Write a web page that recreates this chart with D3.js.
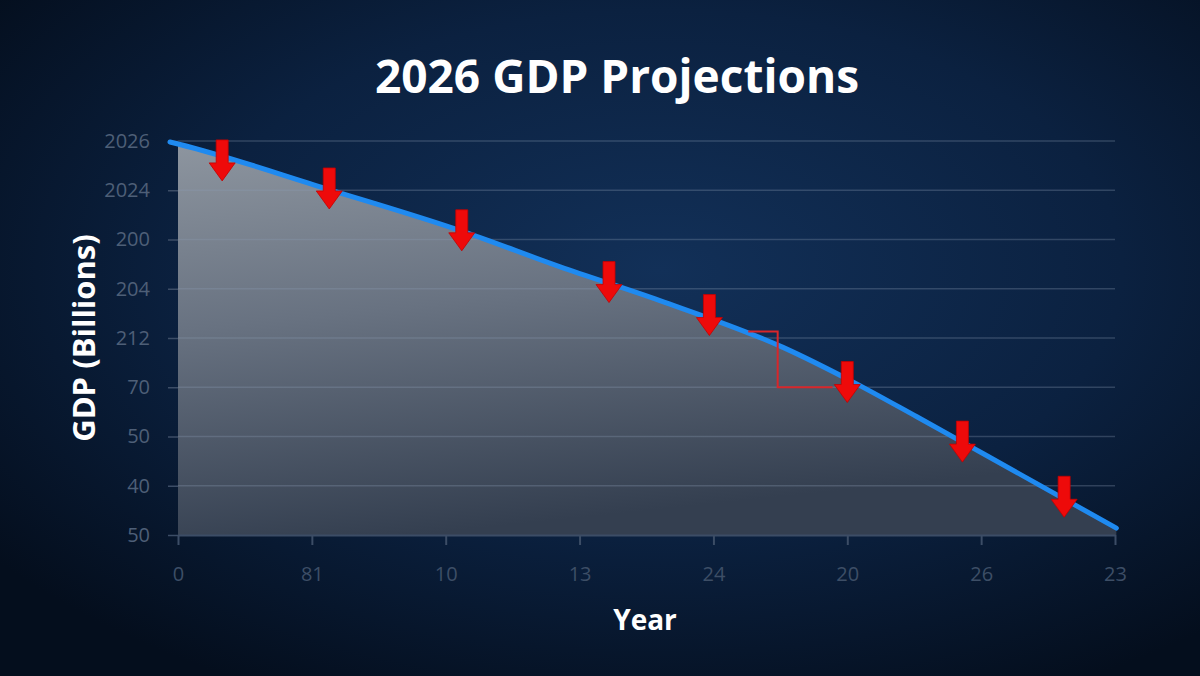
<!DOCTYPE html>
<meta charset="utf-8">
<script src="https://d3js.org/d3.v7.min.js"></script>
<style>
  html, body { margin: 0; padding: 0; background: #07152a; }
</style>
<div id="chart"></div>
<script>

    // tick labels, as printed on the chart
    var xTickLabels = ["0", "81", "10", "13", "24", "20", "26", "23"]
    var yTickLabels = ["50", "40", "50", "70", "212", "204", "200", "2024", "2026"]

    // GDP line (x in tick steps, y in gridline steps)
    var lineX = [-0.06, 0, 1.11, 2.11, 2.85, 3.6, 4.52, 5.02, 5.52, 6.01, 7.01]
    var lineY = [7.98, 7.94, 7.03, 6.18, 5.45, 4.76, 3.81, 3.14, 2.4, 1.66, 0.14]

    // red down arrows: position of the arrow tip
    var arrowX = [0.33, 1.13, 2.12, 3.22, 3.97, 5.0, 5.86, 6.62]
    var arrowY = [7.19, 6.62, 5.77, 4.72, 4.05, 2.69, 1.48, 0.36]

    // small red step marker
    var stepX = [4.26, 4.48, 4.48, 4.89]
    var stepY = [4.13, 4.13, 3.0, 3.0]

    var width = 1200, height = 676
    var margin = {top: 141, right: 85, bottom: 141, left: 178}
    var innerW = width - margin.left - margin.right,
        innerH = height - margin.top - margin.bottom

    var svg = d3.select("#chart")
      .append("svg")
        .attr("width", width)
        .attr("height", height)
        .style("display", "block")

    var defs = svg.append("defs")

    // background glow
    var bg = defs.append("radialGradient")
        .attr("id", "bgGrad")
        .attr("cx", "55%").attr("cy", "40%").attr("r", "70%")
    bg.append("stop").attr("offset", "0%").attr("stop-color", "#123058")
    bg.append("stop").attr("offset", "55%").attr("stop-color", "#0b2140")
    bg.append("stop").attr("offset", "100%").attr("stop-color", "#040e1d")

    svg.append("rect")
        .attr("width", width).attr("height", height)
        .attr("fill", "url(#bgGrad)")

    // area fill
    var ag = defs.append("linearGradient")
        .attr("id", "areaGrad")
        .attr("x1", "0").attr("y1", "0").attr("x2", "0.25").attr("y2", "1")
    ag.append("stop").attr("offset", "0%").attr("stop-color", "#8d959f")
    ag.append("stop").attr("offset", "45%").attr("stop-color", "#687281")
    ag.append("stop").attr("offset", "100%").attr("stop-color", "#343f50")

    var g = svg.append("g")
        .attr("transform", "translate(" + margin.left + "," + margin.top + ")")

    // ----------------- //
    // Scales
    // ----------------- //
    var x = d3.scaleLinear()
        .domain([0, xTickLabels.length - 1])
        .range([0, innerW])

    var y = d3.scaleLinear()
        .domain([0, yTickLabels.length - 1])
        .range([innerH, 0])

    var lineData = lineX.map(function(d, i) { return {x: d, y: lineY[i]} })
    var areaData = lineData.filter(function(d) { return d.x >= 0 })

    // area under the line
    g.append("path")
        .datum(areaData)
        .attr("fill", "url(#areaGrad)")
        .attr("d", d3.area()
            .curve(d3.curveMonotoneX)
            .x(function(d) { return x(d.x) })
            .y0(y(0))
            .y1(function(d) { return y(d.y) }))

    // gridlines
    g.append("g")
        .selectAll("line")
        .data(d3.range(1, yTickLabels.length))
        .enter()
        .append("line")
        .attr("x1", 0).attr("x2", innerW)
        .attr("y1", function(d) { return y(d) })
        .attr("y2", function(d) { return y(d) })
        .attr("stroke", "#8b9cb3")
        .attr("stroke-opacity", 0.3)
        .attr("stroke-width", 1.5)

    // Y axis
    var yAxis = g.append("g")
        .call(d3.axisLeft(y)
            .tickValues(d3.range(yTickLabels.length))
            .tickFormat(function(d) { return yTickLabels[d] })
            .tickSize(10)
            .tickPadding(18))
    yAxis.select(".domain").remove()
    yAxis.selectAll("line").attr("stroke", "#3c4d66").attr("stroke-width", 1.5)
    yAxis.selectAll("text")
        .attr("fill", "#4e5f77")
        .style("font-family", "'Open Sans', sans-serif")
        .style("font-size", "20px")

    // X axis
    var xAxis = g.append("g")
        .attr("transform", "translate(0," + innerH + ")")
        .call(d3.axisBottom(x)
            .tickValues(d3.range(xTickLabels.length))
            .tickFormat(function(d) { return xTickLabels[d] })
            .tickSize(10)
            .tickSizeOuter(0)
            .tickPadding(22))
    xAxis.select(".domain").attr("stroke", "#3c4d66").attr("stroke-width", 2)
    xAxis.selectAll("line").attr("stroke", "#3c4d66").attr("stroke-width", 2)
    xAxis.selectAll("text")
        .attr("fill", "#3d4e66")
        .style("font-family", "'Open Sans', sans-serif")
        .style("font-size", "20px")

    // GDP line
    g.append("path")
        .datum(lineData)
        .attr("fill", "none")
        .attr("stroke", "#1f8af0")
        .attr("stroke-width", 5)
        .attr("stroke-linecap", "round")
        .attr("d", d3.line()
            .curve(d3.curveMonotoneX)
            .x(function(d) { return x(d.x) })
            .y(function(d) { return y(d.y) }))

    // red step marker
    g.append("path")
        .datum(stepX.map(function(d, i) { return {x: d, y: stepY[i]} }))
        .attr("fill", "none")
        .attr("stroke", "#d8262a")
        .attr("stroke-width", 2)
        .attr("d", d3.line()
            .x(function(d) { return x(d.x) })
            .y(function(d) { return y(d.y) }))

    // down arrows (shape drawn relative to the tip)
    var arrowShape = "M0,0 L-13,-18 L-6,-18 L-6,-41 L6,-41 L6,-18 L13,-18 Z"
    g.append("g")
        .selectAll("path")
        .data(arrowX.map(function(d, i) { return {x: d, y: arrowY[i]} }))
        .enter()
        .append("path")
        .attr("transform", function(d) { return "translate(" + x(d.x) + "," + y(d.y) + ")" })
        .attr("d", arrowShape)
        .attr("fill", "#ee0a0a")
        .attr("stroke", "#c40000")
        .attr("stroke-width", 0.8)
        .attr("stroke-linejoin", "round")

    // Title and axis titles
    svg.append("text")
        .attr("x", 617).attr("y", 93)
        .attr("text-anchor", "middle")
        .text("2026 GDP Projections")
        .attr("fill", "#ffffff")
        .style("font-family", "'Open Sans', sans-serif")
        .style("font-weight", "bold")
        .style("font-size", "46px")

    svg.append("text")
        .attr("transform", "translate(95,338) rotate(-90)")
        .attr("text-anchor", "middle")
        .text("GDP (Billions)")
        .attr("fill", "#ffffff")
        .style("font-family", "'Open Sans', sans-serif")
        .style("font-weight", "bold")
        .style("font-size", "31px")

    svg.append("text")
        .attr("x", 645).attr("y", 630)
        .attr("text-anchor", "middle")
        .text("Year")
        .attr("fill", "#ffffff")
        .style("font-family", "'Open Sans', sans-serif")
        .style("font-weight", "bold")
        .style("font-size", "28px")

</script>
